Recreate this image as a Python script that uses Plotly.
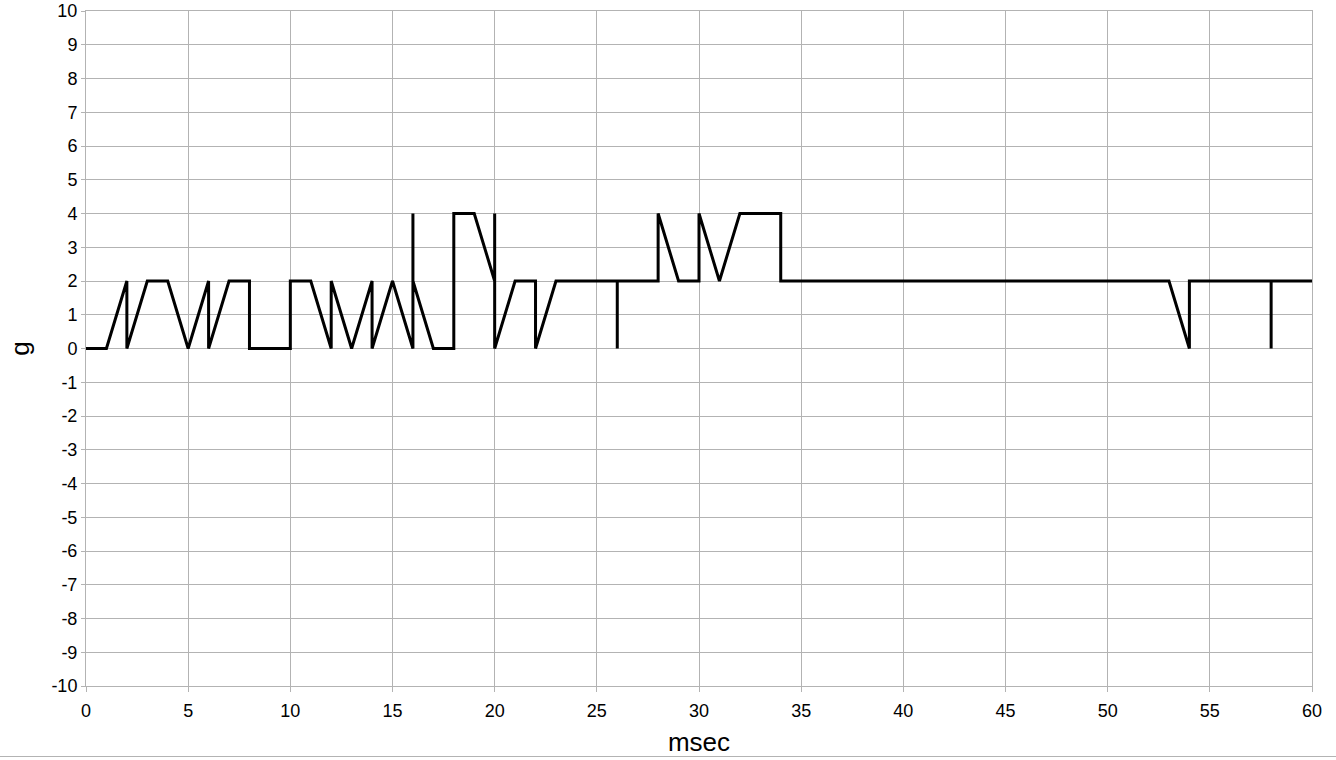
import plotly.graph_objects as go

# Acceleration trace sampled in milliseconds; repeated times are step jumps.
time_ms = [0, 1, 2, 2, 3, 4, 5, 6, 6, 7, 8, 8, 9, 10, 10, 11, 12, 12, 13, 14,
           14, 15, 16, 16, 16, 17, 18, 18, 19, 20, 20, 20, 21, 22, 22, 23, 24,
           25, 26, 26, 26, 27, 28, 28, 29, 30, 30, 31, 32, 33, 34, 34, 35, 36,
           37, 38, 39, 40, 41, 42, 43, 44, 45, 46, 47, 48, 49, 50, 51, 52, 53,
           54, 54, 55, 56, 57, 58, 58, 58, 59, 60]
accel_g = [0, 0, 2, 0, 2, 2, 0, 2, 0, 2, 2, 0, 0, 0, 2, 2, 0, 2, 0, 2,
           0, 2, 0, 4, 2, 0, 0, 4, 4, 2, 4, 0, 2, 2, 0, 2, 2,
           2, 2, 0, 2, 2, 2, 4, 2, 2, 4, 2, 4, 4, 4, 2, 2, 2,
           2, 2, 2, 2, 2, 2, 2, 2, 2, 2, 2, 2, 2, 2, 2, 2, 2,
           0, 2, 2, 2, 2, 2, 0, 2, 2, 2]

x_ticks = list(range(0, 61, 5))
y_ticks = list(range(-10, 11, 1))

GRID = "#b3b3b3"
FONT = "Liberation Sans, Arial, sans-serif"

fig = go.Figure()
fig.add_trace(go.Scatter(
    x=time_ms, y=accel_g, mode="lines",
    line=dict(color="#000000", width=3),
    hoverinfo="x+y", showlegend=False,
))

fig.update_layout(
    width=1336, height=760,
    margin=dict(l=86, r=24, t=11, b=74),
    paper_bgcolor="#ffffff", plot_bgcolor="#ffffff",
    font=dict(family=FONT, color="#000000", size=18),
    xaxis=dict(
        range=[0, 60], tickvals=x_ticks, ticktext=[str(v) for v in x_ticks],
        showgrid=True, gridcolor=GRID, gridwidth=1,
        showline=True, linecolor=GRID, linewidth=1, mirror=True,
        ticks="outside", ticklen=5, tickcolor=GRID,
        ticklabelstandoff=3,
        zeroline=False, automargin=False,
        title=dict(text="msec", font=dict(size=26), standoff=13),
    ),
    yaxis=dict(
        range=[-10, 10], tickvals=y_ticks, ticktext=[str(v) for v in y_ticks],
        showgrid=True, gridcolor=GRID, gridwidth=1,
        showline=True, linecolor=GRID, linewidth=1, mirror=True,
        ticks="outside", ticklen=4, tickcolor=GRID,
        zeroline=False, automargin=False,
        title=dict(text="g", font=dict(size=26), standoff=14),
    ),
)

# thin rule along the bottom edge of the page
fig.add_shape(type="line", xref="paper", yref="paper",
              x0=-86 / 1226, x1=1250 / 1226, y0=-70.5 / 675, y1=-70.5 / 675,
              line=dict(color="#b3b3b3", width=1))

fig.write_html("out.html")
